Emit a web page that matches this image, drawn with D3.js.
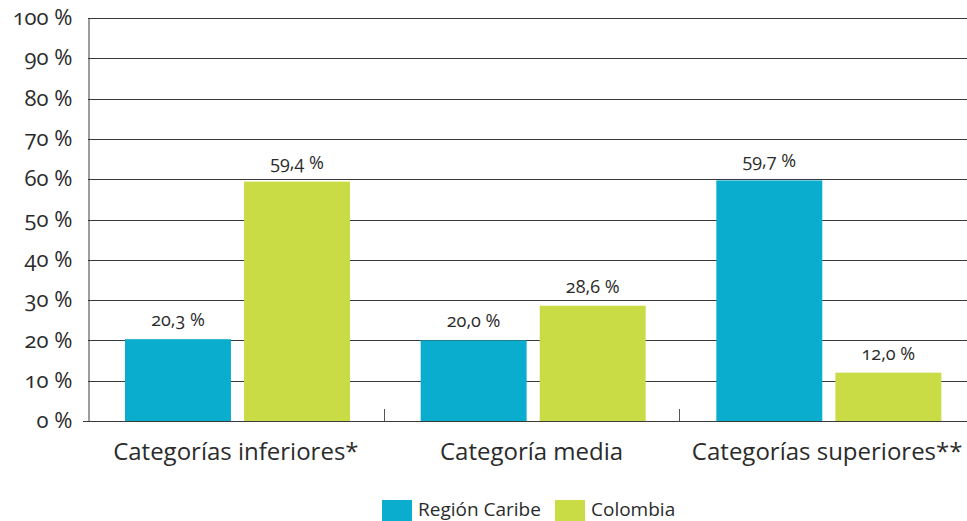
<!DOCTYPE html>
<html>
<head>
<meta charset="utf-8">
<script src="https://cdn.jsdelivr.net/npm/d3@7"></script>
<style>
  body { margin: 0; background: #fff; overflow: hidden; }
  svg { display: block; }
  svg text { font-family: 'Open Sans', sans-serif; font-variant-numeric: oldstyle-nums; fill: #2b2b2b; }
</style>
</head>
<body>
<div id="chart"></div>
<script>
// data
const categories = ['Categorías inferiores*', 'Categoría media', 'Categorías superiores**'];
const series = ['Región Caribe', 'Colombia'];
const caribe = [20.3, 20.0, 59.7];
const colombia = [59.4, 28.6, 12.0];
const yTicks = [0, 10, 20, 30, 40, 50, 60, 70, 80, 90, 100];
const colors = ['#0aadcd', '#c9dc45'];

const width = 967, height = 521;
const x0 = 88, x1 = 975, yTop = 18, yBottom = 421;

const svg = d3.select('#chart')
    .append('svg')
    .attr('width', width)
    .attr('height', height);

const xScale = d3.scaleBand()
    .domain(categories)
    .range([x0, x1]);

const xInner = d3.scaleBand()
    .domain(series)
    .range([37, 262])
    .paddingInner(0.11);

const yScale = d3.scaleLinear()
    .domain([0, 100])
    .range([yBottom, yTop]);

const fmt = v => v.toFixed(1).replace('.', ',') + ' %';

// grid lines
svg.append('g')
    .selectAll('line')
    .data(yTicks.filter(d => d > 0))
    .enter()
    .append('line')
    .attr('x1', x0)
    .attr('x2', width)
    .attr('y1', d => Math.round(yScale(d)) + 0.5)
    .attr('y2', d => Math.round(yScale(d)) + 0.5)
    .attr('stroke', '#3a3a3a')
    .attr('stroke-width', 1);

// y axis
const yAxis = d3.axisLeft(yScale)
    .tickValues(yTicks)
    .tickSize(0)
    .tickPadding(16)
    .tickFormat(d => d + ' %');

const yAxisG = svg.append('g')
    .attr('transform', 'translate(' + (x0 + 0.5) + ',0)')
    .call(yAxis);
yAxisG.select('.domain').attr('stroke', '#3a3a3a');
yAxisG.selectAll('.tick text')
    .style('font-size', '22px')
    .attr('dy', '0.3em');

// bars
const rows = categories.map((c, i) => ({ cat: c, values: [caribe[i], colombia[i]] }));

const groups = svg.append('g')
    .selectAll('g')
    .data(rows)
    .enter()
    .append('g')
    .attr('transform', d => 'translate(' + xScale(d.cat) + ',0)');

groups.selectAll('rect')
    .data(d => d.values.map((v, j) => ({ s: series[j], v: v, j: j })))
    .enter()
    .append('rect')
    .attr('x', d => xInner(d.s))
    .attr('width', xInner.bandwidth())
    .attr('y', d => yScale(d.v))
    .attr('height', d => yBottom - yScale(d.v))
    .attr('fill', d => colors[d.j]);

groups.selectAll('text.val')
    .data(d => d.values.map((v, j) => ({ s: series[j], v: v, j: j })))
    .enter()
    .append('text')
    .attr('class', 'val')
    .attr('x', d => xInner(d.s) + xInner.bandwidth() / 2)
    .attr('y', d => yScale(d.v) - 13)
    .attr('text-anchor', 'middle')
    .style('font-size', '18px')
    .text(d => fmt(d.v));

// x axis
const xAxis = d3.axisBottom(xScale)
    .tickSize(0)
    .tickPadding(21)
    .tickFormat(d => d);

const xAxisG = svg.append('g')
    .attr('transform', 'translate(0,' + (yBottom + 0.5) + ')')
    .call(xAxis);
xAxisG.select('.domain')
    .attr('d', 'M83,0H' + width)
    .attr('stroke', '#3a3a3a')
    .attr('stroke-width', 1.2);
xAxisG.selectAll('.tick text')
    .style('font-size', '24px');

// separators between groups
svg.append('g')
    .selectAll('line')
    .data(categories.slice(1))
    .enter()
    .append('line')
    .attr('x1', d => Math.round(xScale(d)) + 0.5)
    .attr('x2', d => Math.round(xScale(d)) + 0.5)
    .attr('y1', yBottom - 12)
    .attr('y2', yBottom)
    .attr('stroke', '#555');

// legend
const legendX = [382, 555];
const legend = svg.append('g')
    .selectAll('g')
    .data(series)
    .enter()
    .append('g')
    .attr('transform', (d, i) => 'translate(' + legendX[i] + ',500)');

legend.append('rect')
    .attr('width', 30)
    .attr('height', 21)
    .attr('fill', (d, i) => colors[i]);

legend.append('text')
    .attr('x', 36)
    .attr('y', 16)
    .style('font-size', '19px')
    .text(d => d);
</script>
</body>
</html>
